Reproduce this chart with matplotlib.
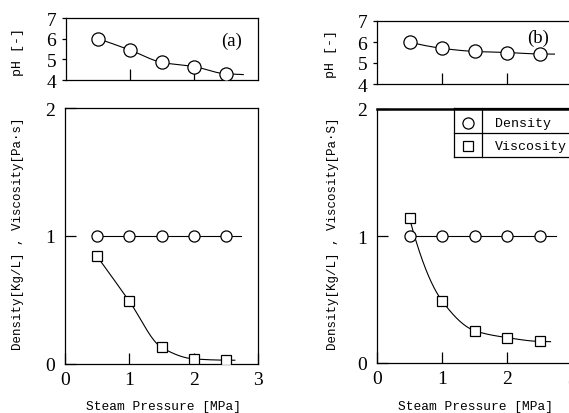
import numpy as np
import matplotlib
matplotlib.use("Agg")
import matplotlib.pyplot as plt
from matplotlib.lines import Line2D

# ---------------- data ----------------
pressure = [0.5, 1.0, 1.5, 2.0, 2.5]
ph_a = [6.0, 5.45, 4.85, 4.65, 4.3]
density_a = [1.0, 1.0, 1.0, 1.0, 1.0]
viscosity_a = [0.84, 0.49, 0.13, 0.04, 0.03]
ph_b = [6.0, 5.7, 5.55, 5.5, 5.43]
density_b = [1.0, 1.0, 1.0, 1.0, 1.0]
viscosity_b = [1.14, 0.49, 0.255, 0.20, 0.17]
x_ticks = [0, 1, 2, 3]
ph_ticks = [4, 5, 6, 7]
main_ticks = [0, 1, 2]
panel_tags = ["(a)", "(b)"]
legend_labels = ["Density", "Viscosity"]
xlabel = "Steam Pressure [MPa]"
ph_label = "pH [-]"
ylabel_a = "Density[Kg/L] , Viscosity[Pa\u00b7s]"
ylabel_b = "Density[Kg/L] , Viscosity[Pa\u00b7S]"


def smooth(x, y, x_end, n=200):
    """Monotone cubic (PCHIP-like) curve through the points, gently extended."""
    x = np.asarray(x, float)
    y = np.asarray(y, float)
    h = np.diff(x)
    d = np.diff(y) / h
    m = np.zeros_like(y)
    for k in range(1, len(x) - 1):
        if d[k - 1] * d[k] > 0:
            w1 = 2 * h[k] + h[k - 1]
            w2 = h[k] + 2 * h[k - 1]
            m[k] = (w1 + w2) / (w1 / d[k - 1] + w2 / d[k])
    m[0] = 2 * d[0] - m[1] if d[0] != 0 else 0.0
    if m[0] * d[0] < 0:
        m[0] = 0.0
    m[-1] = 0.2 * d[-1]
    xs = np.linspace(x[0], x[-1], n)
    ys = np.empty_like(xs)
    for i, xv in enumerate(xs):
        k = min(np.searchsorted(x, xv, side="right") - 1, len(x) - 2)
        t = (xv - x[k]) / h[k]
        h00 = 2 * t**3 - 3 * t**2 + 1
        h10 = t**3 - 2 * t**2 + t
        h01 = -2 * t**3 + 3 * t**2
        h11 = t**3 - t**2
        ys[i] = h00 * y[k] + h10 * h[k] * m[k] + h01 * y[k + 1] + h11 * h[k] * m[k + 1]
    xe = np.linspace(x[-1], x_end, 20)
    ye = y[-1] + m[-1] * (xe - x[-1])
    return np.concatenate([xs, xe]), np.concatenate([ys, ye])


W, H = 569, 414
fig = plt.figure(figsize=(W / 100, H / 100), dpi=100)


def rect(l, t, r, b):
    return [l / W, 1 - b / H, (r - l) / W, (b - t) / H]


ax_pa = fig.add_axes(rect(66, 19, 258, 81))
ax_a = fig.add_axes(rect(65, 109, 258, 365))
ax_pb = fig.add_axes(rect(377, 22, 572, 85))
ax_b = fig.add_axes(rect(377, 110, 572, 364))

serif = "Liberation Serif"
mono = "Liberation Mono"
lw = 0.8

circ_big = dict(marker="o", ms=9.5, mfc="white", mec="black", mew=0.9, ls="none", zorder=3)
circ = dict(marker="o", ms=8, mfc="white", mec="black", mew=0.9, ls="none", zorder=3)
sq = dict(marker="s", ms=6.5, mfc="white", mec="black", mew=0.9, ls="none", zorder=3)

for ax_p, ax_m, ph, dens, visc, ends in [
    (ax_pa, ax_a, ph_a, density_a, viscosity_a, (2.77, 2.73, 2.64)),
    (ax_pb, ax_b, ph_b, density_b, viscosity_b, (2.73, 2.75, 2.67)),
]:
    cx, cy = smooth(pressure, ph, ends[0])
    ax_p.plot(cx, cy, color="black", lw=lw, zorder=2)
    ax_p.plot(pressure, ph, **circ_big)
    ax_p.set_xlim(0, 3)
    ax_p.set_ylim(4, 7)
    ax_p.set_xticks([1, 2])
    ax_p.set_xticklabels([])
    ax_p.set_yticks(ph_ticks)
    ax_p.tick_params(axis="x", direction="in", length=8, width=0.9)
    ax_p.tick_params(axis="y", direction="out", length=3, width=0.9, pad=4,
                     labelsize=14, labelfontfamily=serif)

    cx, cy = smooth(pressure, dens, ends[1])
    ax_m.plot(cx, cy, color="black", lw=lw, zorder=2)
    cx, cy = smooth(pressure, visc, ends[2])
    ax_m.plot(cx, cy, color="black", lw=lw, zorder=2)
    ax_m.plot(pressure, dens, **circ)
    ax_m.plot(pressure, visc, **sq)
    ax_m.set_xlim(0, 3)
    ax_m.set_ylim(0, 2)
    ax_m.set_xticks(x_ticks)
    ax_m.set_yticks(main_ticks)
    ax_m.tick_params(direction="in", length=8, width=0.9, labelsize=14,
                     labelfontfamily=serif)
    ax_m.tick_params(axis="x", pad=5)
    ax_m.tick_params(axis="y", pad=7)
    for ax in (ax_p, ax_m):
        for s in ax.spines.values():
            s.set_linewidth(0.9)

ax_b.spines["top"].set_linewidth(1.8)

# panel tags
fig.text(232 / W, 1 - 41 / H, panel_tags[0], fontsize=13.5, family=serif,
         ha="center", va="center")
fig.text(538 / W, 1 - 38 / H, panel_tags[1], fontsize=13.5, family=serif,
         ha="center", va="center")

# axis labels
fig.text(18 / W, 1 - 52 / H, ph_label, rotation=90, fontsize=9.5, family=mono,
         ha="center", va="center")
fig.text(331 / W, 1 - 54 / H, ph_label, rotation=90, fontsize=9.5, family=mono,
         ha="center", va="center")
fig.text(18 / W, 1 - 234 / H, ylabel_a, rotation=90, fontsize=9, family=mono,
         ha="center", va="center")
fig.text(333 / W, 1 - 234 / H, ylabel_b, rotation=90, fontsize=9, family=mono,
         ha="center", va="center")
fig.text(163 / W, 1 - 407 / H, xlabel, fontsize=9.3, family=mono,
         ha="center", va="center")
fig.text(475 / W, 1 - 407 / H, xlabel, fontsize=9.3, family=mono,
         ha="center", va="center")

# table-style legend in panel (b)
def fx(px):
    return px / W


def fy(py):
    return 1 - py / H


leg_l, leg_div, leg_r = 454, 482, 575
leg_t, leg_mid, leg_b = 109, 134, 158
for xs_, ys_ in [
    ((leg_l, leg_r), (leg_t, leg_t)),
    ((leg_l, leg_r), (leg_mid, leg_mid)),
    ((leg_l, leg_r), (leg_b, leg_b)),
    ((leg_l, leg_l), (leg_t, leg_b)),
    ((leg_div, leg_div), (leg_t, leg_b)),
]:
    fig.add_artist(Line2D([fx(xs_[0]), fx(xs_[1])], [fy(ys_[0]), fy(ys_[1])],
                          color="black", lw=0.9, transform=fig.transFigure))
fig.add_artist(Line2D([fx(468)], [fy(124)], transform=fig.transFigure, **circ))
fig.add_artist(Line2D([fx(468)], [fy(147)], transform=fig.transFigure, **sq))
fig.text(fx(495), fy(124), legend_labels[0], fontsize=9.5, family=mono,
         ha="left", va="center")
fig.text(fx(495), fy(147), legend_labels[1], fontsize=9.5, family=mono,
         ha="left", va="center")

fig.savefig("out.png", dpi=100)
